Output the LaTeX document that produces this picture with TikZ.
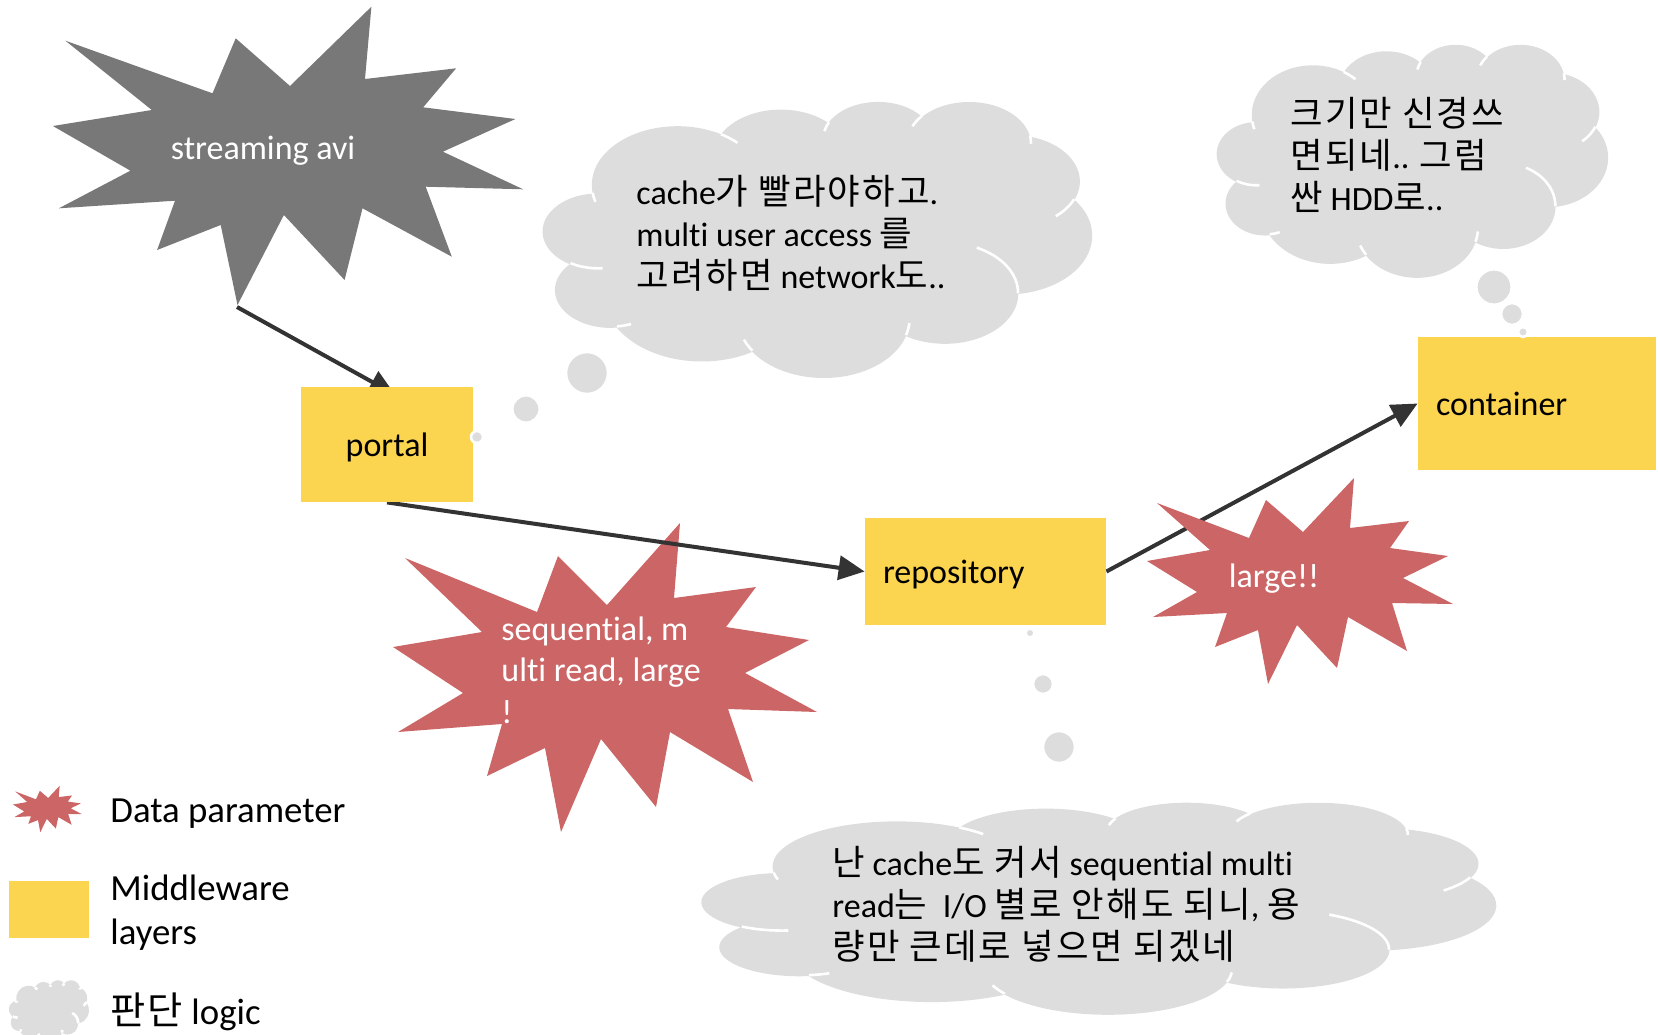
\documentclass[tikz,border=0pt]{standalone}
\usepackage{fontspec}
\setmainfont{Carlito}[Ligatures=NoCommon]
\newfontfamily\kr{Noto Sans CJK KR}[Scale=1.04,LetterSpace=6]
\usetikzlibrary{arrows.meta,calc}
\definecolor{boxyellow}{RGB}{251,212,80}
\definecolor{starred}{RGB}{204,102,102}
\definecolor{stargray}{RGB}{120,120,120}
\definecolor{cloudgray}{RGB}{221,221,221}
\definecolor{arrowdark}{RGB}{51,51,51}
\pgfdeclarelayer{bg}
\pgfdeclarelayer{mid}
\pgfsetlayers{bg,mid,main}
\def\cloudouter{6753/9190/-190.48748/123.78053,5333/7267/-144.10238/89.94523,4365/5945/-145.80792/99.72302,4857/6595/-130.98607/117.24173,5333/7273/-78.70888/109.02692,6775/9220/-46.26725/130.269,5785/7867/0.62502/114.03333,6752/9215/22.4516/115.17255,7720/10543/66.24263/75.71102,4360/5918/-274.94208/146.73557,4345/5945/-246.8285/152.51885}
\def\cloudinner{46.93/261.77/4345/5945/86.742/26.4295,69.28/348.99/4360/5918/73.61047/11.44747,164.78/390.90/6752/9215/137.62415/14.0811,288.27/347.51/6752/9215/6.45327/15.99835,341.29/229.54/5785/7867/-70.29235/70.91737,417.98/153.54/5333/7273/30.31803/27.7515,383.24/54.26/4857/6595/-13.74433/14.8589,290.78/39.52/4857/6595/-149.18145/18.19537,221.41/47.20/4365/5945/-163.49427/17.68635,140.00/51.92/6753/9190/-66.70695/12.31935,41.27/157.89/6753/9190/157.65435/11.85817}
\newcommand\officecloud[4]{%
  \begin{scope}[shift={(#1,#2)}, xscale=#3/432, yscale=#4/432]
    \fill[cloudgray] (39,143.7) \foreach \pw/\ph/\pa/\pb in \cloudouter {
      arc[start angle={atan2(\pw*sin(\pa),\ph*cos(\pa))},
          delta angle={Mod(atan2(\pw*sin(\pa+\pb),\ph*cos(\pa+\pb))-atan2(\pw*sin(\pa),\ph*cos(\pa)),360)},
          x radius=\pw/100, y radius=\ph/100]
    } -- cycle;
    \draw[white, line width=1.3pt] \foreach \qx/\qy/\pw/\ph/\pa/\pb in \cloudinner {
      (\qx,\qy) arc[start angle={atan2(\pw*sin(\pa),\ph*cos(\pa))},
          delta angle={Mod(atan2(\pw*sin(\pa+\pb),\ph*cos(\pa+\pb))-atan2(\pw*sin(\pa),\ph*cos(\pa)),360)},
          x radius=\pw/100, y radius=\ph/100]
    };
  \end{scope}}
\newcommand\largestarpath[1]{\fill[#1] (1157,503) -- (1210,550) -- (1147,561) -- (1197,592) -- (1153,617) -- (1227,613) -- (1215,647) -- (1258,630) -- (1268,684) -- (1297,625) -- (1337,668) -- (1348,617) -- (1407,651) -- (1392,603) -- (1453,604) -- (1403,578) -- (1448,556) -- (1390,548) -- (1409,521) -- (1350,528) -- (1354,478) -- (1303,532) -- (1266,500) -- (1249,538) -- cycle;}
\begin{document}
\begin{tikzpicture}[x=0.5pt,y=-0.5pt,
  box/.style={fill=boxyellow, draw=none, inner sep=0pt, text depth=0pt, font=\fontsize{17}{21}\selectfont},
  arr/.style={draw=arrowdark, line width=2pt, -{Triangle[length=13pt,width=12pt]}},
  startxt/.style={text=white, inner sep=0pt, font=\fontsize{17}{20.8}\selectfont, align=left},
  cloudtxt/.style={text=black, inner sep=0pt, font=\fontsize{17}{21}\selectfont, align=left, anchor=west},
  legendtxt/.style={inner sep=0pt, font=\fontsize{18.4}{22}\selectfont, align=left, anchor=west},
  bubble/.style={fill=cloudgray, draw=white, line width=1.3pt}]
\useasboundingbox (0,0) rectangle (1658,1034);
\clip (0,0) rectangle (1658,1034);

% stars on the lowest layer
\begin{pgfonlayer}{bg}
\fill[stargray] (65.4,40.7) -- (151.8,110) -- (52.9,126) -- (130.4,170.7) -- (58.9,208.3) -- (175,200.7) -- (157.1,250) -- (220.7,225) -- (237.5,305) -- (283.9,215) -- (344.6,280) -- (362.5,208.3) -- (451.8,256.7) -- (425.7,186.7) -- (523.2,189.3) -- (442.9,151.7) -- (515.4,119) -- (423.2,107.3) -- (456.1,68.3) -- (365,79) -- (371.4,6.7) -- (290,86) -- (235.7,38.3) -- (212.5,93.3) -- cycle;
\fill[starred] (405,558) -- (482,632) -- (393,647) -- (463,693) -- (398,732) -- (502,724) -- (487,776) -- (545,748) -- (561,832) -- (601,739) -- (656,807) -- (670,732) -- (753,782) -- (728,709) -- (817,712) -- (745,673) -- (809,640) -- (726,627) -- (756,587) -- (674,598) -- (680,523) -- (607,605) -- (558,556) -- (537,612) -- cycle;
\end{pgfonlayer}
\coordinate (s1tip) at (237,307);

% middleware boxes
\node[box, minimum width=86pt, minimum height=57.5pt] (portal) at (387,444.5) {portal};
\node[box, minimum width=120.5pt, minimum height=53.5pt, text width=102.5pt, inner xsep=9pt, align=left] (repo) at (985.5,571.5) {repository};
\node[box, minimum width=119pt, minimum height=66.5pt, text width=101pt, inner xsep=9pt, align=left] (container) at (1537,403.5) {container};

% connectors
\begin{pgfonlayer}{mid}
\draw[arr] (s1tip) -- ($(portal.north)+(8,8)$);
\draw[arr] (portal.south) -- (repo.west);
\draw[arr] (repo.east) -- (container.west);
\largestarpath{starred}
\end{pgfonlayer}

% star texts
\node[startxt] (s1) at (263,151) {streaming avi};
\node[startxt, anchor=west] (s2) at (501,670) {sequential, m\\ulti read, large\\!};
\node[startxt] (s3) at (1274,579) {large!!};

% thought clouds
\officecloud{543}{101}{549}{276}
\officecloud{1217}{44}{391}{233}
\officecloud{702}{802}{794}{212}
\fill[bubble] (587,373) circle[radius=21];
\fill[bubble] (526,409) circle[radius=13.7];
\filldraw[bubble] (477,437) circle[radius=6];
\filldraw[bubble] (1494,287) circle[radius=17.7];
\filldraw[bubble] (1512,314) circle[radius=11];
\filldraw[bubble] (1523,332) circle[radius=5];
\filldraw[bubble] (1030,633) circle[radius=4.5];
\filldraw[bubble] (1043,684) circle[radius=10];
\filldraw[bubble] (1059,747) circle[radius=16];

\node[cloudtxt] (c1t) at (636,233) {cache{\kr 가 빨라야하고}.\\multi user access {\kr 를}\\{\kr 고려하면} network{\kr 도}..};
\node[cloudtxt] (c2t) at (1290,155) {{\kr 크기만 신경쓰}\\{\kr 면되네}.. {\kr 그럼}\\{\kr 싼} HDD{\kr 로}..};
\node[cloudtxt] (c3t) at (832,904) {{\kr 난} cache{\kr 도 커서} sequential multi\\read{\kr 는}\ \ I/O {\kr 별로 안해도 되니}, {\kr 용}\\{\kr 량만 큰데로 넣으면 되겠네}};

% legend
\begin{scope}[shift={(47.5,809)}, scale=0.2255, shift={(-1300,-581)}]
\largestarpath{starred}
\end{scope}
\node[fill=boxyellow, minimum width=40pt, minimum height=28.5pt, inner sep=0pt] (lrect) at (49,909.5) {};
\officecloud{9}{980}{80}{62}
\node[legendtxt] (l1) at (110,814) {Data parameter};
\node[legendtxt] (l2) at (110,913) {Middleware\\layers};
\node[legendtxt] (l3) at (110,1012) {{\kr 판단} logic};
\end{tikzpicture}
\end{document}
